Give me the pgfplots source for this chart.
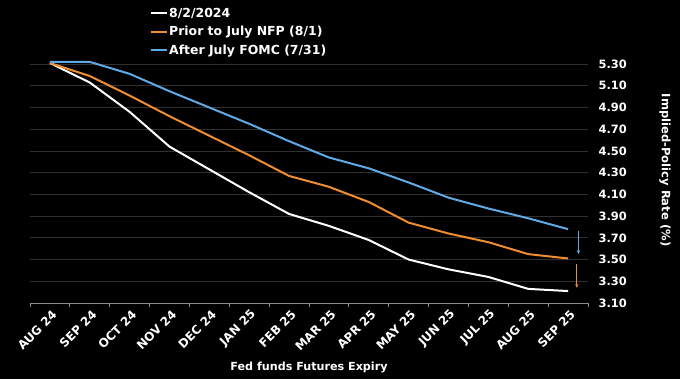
\documentclass[border=0pt]{standalone}
\usepackage{fontspec}
\setmainfont{DejaVu Sans}
\usepackage{pgfplots}
\usepackage{pgfplotstable}
\pgfplotsset{compat=1.18}
\usetikzlibrary{arrows.meta}
\definecolor{corange}{RGB}{240,140,50}
\definecolor{cblue}{RGB}{95,170,230}
\definecolor{cgrid}{RGB}{48,48,48}
\definecolor{caxis}{RGB}{140,140,140}

\pgfplotstableread{
x white orange blue
0.5 5.31 5.31 5.32
1.5 5.13 5.19 5.32
2.5 4.86 5.01 5.21
3.5 4.54 4.82 5.05
4.5 4.33 4.64 4.90
5.5 4.12 4.46 4.75
6.5 3.92 4.27 4.59
7.5 3.81 4.17 4.44
8.5 3.68 4.03 4.34
9.5 3.50 3.84 4.21
10.5 3.41 3.74 4.07
11.5 3.34 3.66 3.97
12.5 3.23 3.55 3.88
13.5 3.21 3.51 3.78
}\ratedata

\begin{document}
\begin{tikzpicture}
\useasboundingbox (-30bp,-76bp) rectangle (650bp,303bp);
\fill[black] (-30bp,-76bp) rectangle (650bp,303bp);
\begin{axis}[
  at={(0,0)}, anchor=south west,
  scale only axis, width=558bp, height=248bp,
  xmin=0, xmax=14, ymin=3.10, ymax=5.3836,
  axis x line*=bottom, axis y line*=right,
  x axis line style={draw=caxis, line width=1bp, -},
  y axis line style={draw=none},
  xtick={0.5,1.5,2.5,3.5,4.5,5.5,6.5,7.5,8.5,9.5,10.5,11.5,12.5,13.5},
  xticklabels={AUG 24,SEP 24,OCT 24,NOV 24,DEC 24,JAN 25,FEB 25,MAR 25,APR 25,MAY 25,JUN 25,JUL 25,AUG 25,SEP 25},
  minor xtick={0,1,2,3,4,5,6,7,8,9,10,11,12,13,14},
  major tick length=0pt, minor tick length=4bp,
  tick align=outside,
  minor tick style={draw=caxis, line width=0.8bp},
  xticklabel style={rotate=45, anchor=east, font=\bfseries\fontsize{12}{14}\selectfont, text=white, xshift=0bp, yshift=-10bp},
  ytick={3.1,3.3,3.5,3.7,3.9,4.1,4.3,4.5,4.7,4.9,5.1,5.3},
  yticklabel pos=right,
  yticklabel style={anchor=west, font=\bfseries\fontsize{11.5}{13}\selectfont, text=white, xshift=7bp,
    /pgf/number format/.cd, fixed, fixed zerofill, precision=2, assume math mode=true},
  ymajorgrids, grid style={draw=cgrid, line width=0.8bp},
  xlabel={Fed funds Futures Expiry},
  xlabel style={at={(axis description cs:0.5,-0.258)}, anchor=center, font=\bfseries\fontsize{11.2}{13}\selectfont, text=white},
  ylabel={Implied-Policy Rate (\%)},
  ylabel style={at={(axis description cs:1.138,0.536)}, rotate=180, anchor=center, font=\bfseries\fontsize{11.6}{13}\selectfont, text=white},
  legend style={at={(axis description cs:0.215,1.194)}, anchor=north west, draw=none, fill=none, text=white,
    font=\bfseries\fontsize{12.5}{14}\selectfont, row sep=5.5bp, inner sep=0pt,
    nodes={inner sep=1bp}},
  legend cell align=left,
  legend image code/.code={\draw[#1, line width=2bp] (0bp,0bp) -- (16bp,0bp);},
]
\addplot[draw=white, line width=2bp] table[x=x, y=white] {\ratedata};
\addlegendentry{8/2/2024}
\addplot[draw=corange, line width=2bp] table[x=x, y=orange] {\ratedata};
\addlegendentry{Prior to July NFP (8/1)}
\addplot[draw=cblue, line width=2bp] table[x=x, y=blue] {\ratedata};
\addlegendentry{After July FOMC (7/31)}
\draw[-{Stealth[length=4bp,width=3.5bp]}, cblue, line width=0.9bp] (axis cs:13.76,3.76) -- (axis cs:13.76,3.55);
\draw[-{Stealth[length=4bp,width=3.5bp]}, corange, line width=0.9bp] (axis cs:13.72,3.46) -- (axis cs:13.72,3.24);
\end{axis}
\end{tikzpicture}
\end{document}
